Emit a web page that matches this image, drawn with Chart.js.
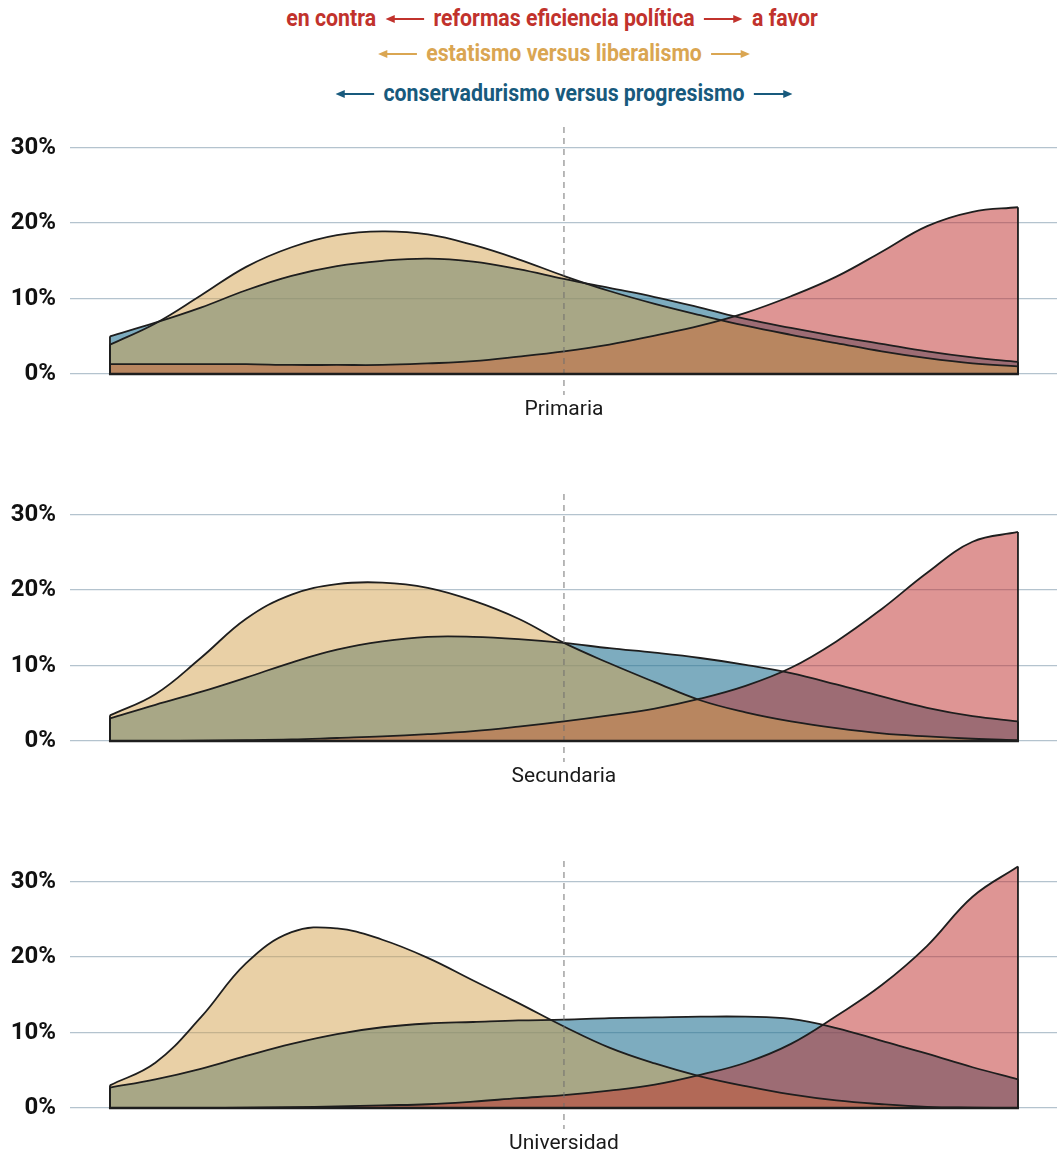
<!DOCTYPE html>
<html>
<head>
<meta charset="utf-8">
<script src="https://cdn.jsdelivr.net/npm/chart.js@4.4.1/dist/chart.umd.min.js"></script>
<style>
html, body { margin: 0; padding: 0; background: #fff; }
body { width: 1057px; height: 1158px; position: relative; overflow: hidden; font-family: Roboto, "Noto Sans", sans-serif; }
.hdr { position: absolute; left: 0; width: 1128px; display: grid; grid-template-columns: 1fr auto 1fr; align-items: center;
  font-family: Roboto, "Noto Sans", sans-serif; font-weight: 700; font-size: 23px; line-height: 26px; white-space: nowrap;
  transform: scaleX(0.925); transform-origin: 564px 50%; }
.hdr .l { justify-self: end; display: flex; align-items: center; }
.hdr .r { justify-self: start; display: flex; align-items: center; }
.arrow { width: 42px; height: 10px; margin: 0 10px; display: block; }
canvas { position: absolute; left: 0; }
</style>
</head>
<body>
<div class="hdr" style="top:6px;color:#c1322c">
  <div class="l"><span>en contra</span><svg class="arrow" viewBox="0 0 42 10" preserveAspectRatio="none"><line x1="7" y1="5" x2="42" y2="5" stroke="currentColor" stroke-width="2"/><polygon points="0,5 10,1 10,9" fill="currentColor"/></svg></div>
  <div>reformas eficiencia política</div>
  <div class="r"><svg class="arrow" viewBox="0 0 42 10" preserveAspectRatio="none"><line x1="0" y1="5" x2="35" y2="5" stroke="currentColor" stroke-width="2"/><polygon points="42,5 32,1 32,9" fill="currentColor"/></svg><span>a favor</span></div>
</div>
<div class="hdr" style="top:41px;color:#daa652">
  <div class="l"><svg class="arrow" viewBox="0 0 42 10" preserveAspectRatio="none"><line x1="7" y1="5" x2="42" y2="5" stroke="currentColor" stroke-width="2"/><polygon points="0,5 10,1 10,9" fill="currentColor"/></svg></div>
  <div>estatismo versus liberalismo</div>
  <div class="r"><svg class="arrow" viewBox="0 0 42 10" preserveAspectRatio="none"><line x1="0" y1="5" x2="35" y2="5" stroke="currentColor" stroke-width="2"/><polygon points="42,5 32,1 32,9" fill="currentColor"/></svg></div>
</div>
<div class="hdr" style="top:81px;color:#185a7d">
  <div class="l"><svg class="arrow" viewBox="0 0 42 10" preserveAspectRatio="none"><line x1="7" y1="5" x2="42" y2="5" stroke="currentColor" stroke-width="2"/><polygon points="0,5 10,1 10,9" fill="currentColor"/></svg></div>
  <div>conservadurismo versus progresismo</div>
  <div class="r"><svg class="arrow" viewBox="0 0 42 10" preserveAspectRatio="none"><line x1="0" y1="5" x2="35" y2="5" stroke="currentColor" stroke-width="2"/><polygon points="42,5 32,1 32,9" fill="currentColor"/></svg></div>
</div>

<canvas id="c1" width="1057" height="329" style="top:95px"></canvas>
<canvas id="c2" width="1057" height="329" style="top:462px"></canvas>
<canvas id="c3" width="1057" height="329" style="top:829px"></canvas>

<script>
// position on the scale (0 = left end, 10 = right end, 5 = centre)
const positions = [0, 0.5, 1, 1.5, 2, 2.5, 3, 3.5, 4, 4.5, 5, 5.5, 6, 6.5, 7, 7.5, 8, 8.5, 9, 9.5, 10];
const yTicks = [0, 10, 20, 30];
const yMax = 33;

// share of respondents (%) at each position
const primariaReformas   = [1.3, 1.3, 1.3, 1.3, 1.2, 1.2, 1.2, 1.4, 1.7, 2.3, 3.0, 3.9, 5.1, 6.4, 8.1, 10.3, 12.9, 16.2, 19.6, 21.5, 22.1];
const primariaEstatismo  = [3.9, 6.7, 10.4, 14.2, 16.8, 18.4, 18.9, 18.5, 17.1, 15.2, 13.0, 11.0, 9.3, 7.8, 6.4, 5.2, 4.1, 3.0, 2.1, 1.4, 1.0];
const primariaConservad  = [5.0, 6.8, 8.8, 11.1, 13.0, 14.3, 15.0, 15.3, 14.9, 13.9, 12.6, 11.4, 10.2, 8.8, 7.3, 6.1, 5.0, 4.0, 3.0, 2.2, 1.6];

const secundariaReformas  = [0, 0, 0.05, 0.1, 0.2, 0.4, 0.6, 0.9, 1.3, 1.9, 2.6, 3.4, 4.3, 5.6, 7.3, 9.7, 13.2, 17.5, 22.3, 26.4, 27.7];
const secundariaEstatismo = [3.4, 6.2, 11.0, 16.2, 19.4, 20.8, 21.0, 20.3, 18.6, 16.2, 13.0, 10.3, 7.8, 5.4, 3.8, 2.6, 1.7, 1.0, 0.6, 0.3, 0.1];
const secundariaConservad = [3.0, 4.8, 6.5, 8.4, 10.4, 12.1, 13.2, 13.8, 13.8, 13.5, 13.0, 12.3, 11.7, 11.0, 10.1, 9.0, 7.5, 5.9, 4.4, 3.3, 2.6];

const universidadReformas  = [0, 0, 0, 0.05, 0.1, 0.2, 0.35, 0.5, 0.85, 1.3, 1.7, 2.3, 3.1, 4.4, 6.0, 8.5, 12.2, 16.3, 21.5, 28.0, 32.0];
const universidadEstatismo = [3.0, 6.0, 12.0, 19.2, 23.3, 23.8, 22.3, 19.9, 16.9, 13.9, 10.8, 8.0, 5.9, 4.2, 2.9, 1.8, 1.0, 0.5, 0.15, 0.05, 0];
const universidadConservad = [2.7, 3.8, 5.2, 6.9, 8.5, 9.8, 10.7, 11.2, 11.4, 11.6, 11.7, 11.9, 12.0, 12.1, 12.1, 11.8, 10.6, 8.9, 7.2, 5.4, 3.8];

const RED = 'rgba(189, 43, 41, 0.5)';
const TAN = 'rgba(211, 161, 77, 0.5)';
const BLUE = 'rgba(38, 117, 148, 0.6)';
const OUTLINE = '#1e1e1e';

// vertical ends of each area, the base line, the centre marker and the panel name
const framePlugin = {
  id: 'frame',
  afterDatasetsDraw(chart, args, opts) {
    const { ctx, chartArea, scales: { x, y } } = chart;
    const x0 = x.getPixelForValue(positions[0]);
    const x1 = x.getPixelForValue(positions[positions.length - 1]);
    const xc = x.getPixelForValue(positions[10]);
    const yb = y.getPixelForValue(0);
    ctx.save();
    // centre dashed line
    ctx.strokeStyle = 'rgba(110,110,110,0.8)';
    ctx.lineWidth = 1.2;
    ctx.setLineDash([6, 5]);
    ctx.beginPath();
    ctx.moveTo(xc, chartArea.top + 2);
    ctx.lineTo(xc, yb + 21);
    ctx.stroke();
    ctx.setLineDash([]);
    // ends
    ctx.strokeStyle = OUTLINE;
    ctx.lineWidth = 1.8;
    chart.data.datasets.forEach(ds => {
      const a = ds.data[0], b = ds.data[ds.data.length - 1];
      ctx.beginPath();
      ctx.moveTo(x0, yb); ctx.lineTo(x0, y.getPixelForValue(a.y));
      ctx.moveTo(x1, yb); ctx.lineTo(x1, y.getPixelForValue(b.y));
      ctx.stroke();
    });
    ctx.lineWidth = 2.6;
    ctx.beginPath();
    ctx.moveTo(x0 - 1, yb); ctx.lineTo(x1 + 1, yb);
    ctx.stroke();
    // panel name
    ctx.fillStyle = '#1a1a1a';
    ctx.font = '21px Roboto, "Noto Sans", sans-serif';
    ctx.textAlign = 'center';
    ctx.textBaseline = 'middle';
    ctx.fillText(opts.label, xc, yb + 36);
    ctx.restore();
  }
};

function area(label, values, color, order) {
  return {
    label,
    data: positions.map((p, i) => ({ x: p, y: values[i] })),
    backgroundColor: color,
    borderColor: OUTLINE,
    borderWidth: 1.8,
    fill: 'origin',
    pointRadius: 0,
    tension: 0.4,
    order
  };
}

function makeChart(id, label, reformas, estatismo, conservad, redOnTop) {
  // higher order is painted first (underneath)
  const datasets = [
    area('conservadurismo versus progresismo', conservad, BLUE, 3),
    area('reformas eficiencia política', reformas, RED, redOnTop ? 1 : 2),
    area('estatismo versus liberalismo', estatismo, TAN, redOnTop ? 2 : 1)
  ];
  return new Chart(document.getElementById(id).getContext('2d'), {
    type: 'line',
    data: { datasets },
    options: {
      responsive: false,
      animation: false,
      devicePixelRatio: 1,
      layout: { padding: { top: 30, bottom: 50, left: 0, right: 0 } },
      scales: {
        x: { type: 'linear', min: -0.44, max: 10.43, display: false },
        y: {
          min: 0,
          max: yMax,
          afterBuildTicks: (scale) => { scale.ticks = yTicks.map(v => ({ value: v })); },
          afterFit: (scale) => { scale.width = 70; },
          border: { display: false },
          grid: { color: '#b4c3ce', lineWidth: 1.2, drawTicks: false },
          ticks: {
            padding: 14,
            color: '#111',
            font: { family: 'Roboto, "Noto Sans", sans-serif', size: 24, weight: 'bold' },
            callback: (v) => v + '%'
          }
        }
      },
      plugins: {
        legend: { display: false },
        tooltip: { enabled: false },
        filler: { drawTime: 'beforeDatasetsDraw' },
        frame: { label }
      }
    },
    plugins: [framePlugin]
  });
}

makeChart('c1', 'Primaria', primariaReformas, primariaEstatismo, primariaConservad, false);
makeChart('c2', 'Secundaria', secundariaReformas, secundariaEstatismo, secundariaConservad, false);
makeChart('c3', 'Universidad', universidadReformas, universidadEstatismo, universidadConservad, true);
</script>
</body>
</html>
